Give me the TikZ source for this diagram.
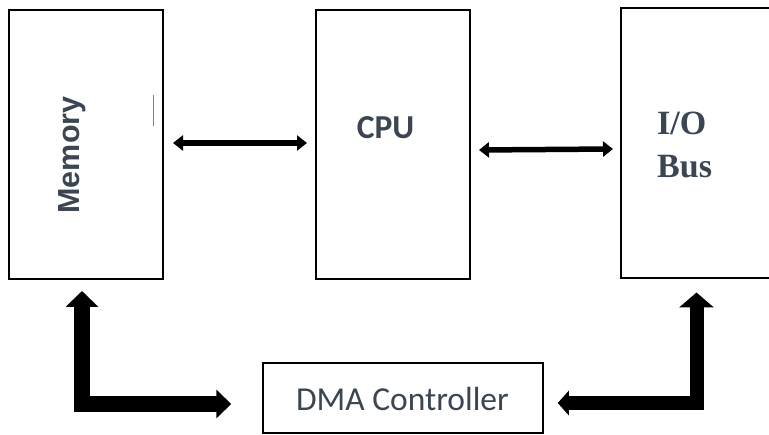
\documentclass[tikz,border=0pt]{standalone}
\usepackage{fontspec}
\usetikzlibrary{arrows.meta,calc}
\newfontfamily\armo{Liberation Sans}
\newfontfamily\carl{Carlito}
\newfontfamily\tms{Liberation Serif}
\definecolor{txt}{HTML}{3B4652}
\tikzset{
  unitbox/.style={draw=black, line width=2pt, rectangle, inner sep=0pt, fill=white},
  label/.style={inner sep=0pt, text=txt},
  thinlink/.style={line width=5.5pt, {Triangle[width=15pt,length=10pt]}-{Triangle[width=15pt,length=10pt]}},
  fatlink/.style={line join=miter, black}
}
\begin{document}
\begin{tikzpicture}[x=1pt,y=-1pt]
\useasboundingbox (0,0) rectangle (769,435);
% functional blocks
\node[unitbox, minimum width=154pt, minimum height=269pt] (mem) at (86,144.5) {};
\node[unitbox, minimum width=154pt, minimum height=269pt] (cpu) at (393,144.5) {};
\node[unitbox, minimum width=179pt, minimum height=270pt] (io) at (710.5,143.5) {};
\node[unitbox, line width=1.5pt, minimum width=280pt, minimum height=70pt] (dma) at (403,398) {};
% block captions
\node[label, rotate=90, font=\armo\bfseries\fontsize{30.5}{32}\selectfont] (memtxt) at (72,155) {Memory};
\node[label, font=\carl\bfseries\fontsize{33.5}{35}\selectfont] (cputxt) at (385.5,128) {CPU};
\node[label, anchor=base west, font=\tms\bfseries\fontsize{34}{36}\selectfont] (iotxt1) at (657,135) {I/O};
\node[label, anchor=base west, font=\tms\bfseries\fontsize{34}{36}\selectfont] (iotxt2) at (657,178) {Bus};
\node[label, font=\carl\fontsize{33.5}{35}\selectfont] (dmatxt) at (402.5,399) {DMA Controller};
% small mark inside memory block
\draw[gray, line width=1pt] (153,95) -- (153,126);
% system bus links
\draw[thinlink] ([xshift=9pt,yshift=1.5pt]mem.east) -- ([xshift=-8pt,yshift=1.5pt]cpu.west);
\draw[thinlink] ([xshift=8pt,yshift=-5.5pt]cpu.east) -- ([xshift=-7pt,yshift=-5.5pt]io.west);
% DMA transfer paths
\draw[fatlink, line width=16pt, {Triangle[width=32pt,length=16pt]}-{Triangle[width=28pt,length=15pt]}]
  ([xshift=-4pt,yshift=-11pt]mem.south) |- ([xshift=-31pt,yshift=-6pt]dma.west);
\draw[fatlink, line width=14pt, {Triangle[width=34pt,length=15pt]}-{Triangle[width=24pt,length=11pt]}]
  ([yshift=-13pt]io.south west -| 696.5,0) |- ([xshift=14pt,yshift=-5pt]dma.east);
\end{tikzpicture}
\end{document}
